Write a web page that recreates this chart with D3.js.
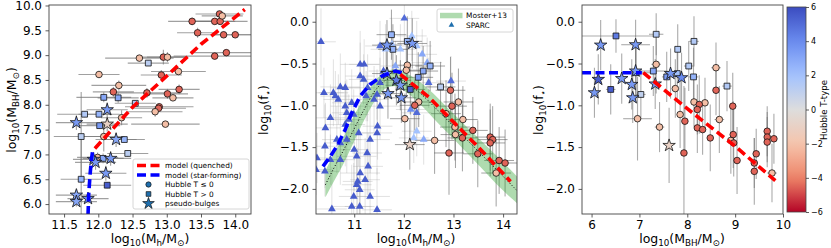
<!DOCTYPE html>
<html><head><meta charset="utf-8">
<script src="https://cdn.jsdelivr.net/npm/d3@7"></script>
<style>
body{margin:0;background:#fff}
text{font-family:"DejaVu Sans",sans-serif;fill:#000}
</style></head><body>
<svg id="fig" width="831" height="248"></svg>
<script>
// galaxies: [x, y, Hubble T, xerr, yerr, kind]  kind: c = T<=0, s = T>0, p = pseudo-bulge
const p1Gal = [
 [13.37,9.68,-4.5,0.35,0.08,"c"],[13.77,9.83,-4.5,0.35,0.06,"c"],[13.70,9.68,-4.5,0.3,0.06,"c"],
 [13.78,9.68,-4.5,0.4,0.06,"c"],[13.45,9.45,-4.5,0.3,0.1,"c"],[13.83,9.41,-4.5,0.4,0.06,"c"],
 [14.00,9.41,-4.5,0.35,0.06,"c"],[13.87,9.05,-4.5,0.5,0.06,"c"],[13.70,8.98,-4.5,0.6,0.06,"c"],
 [12.95,8.96,-4.5,0.35,0.15,"c"],[12.92,8.60,-4.5,0.3,0.1,"c"],[12.22,8.26,-4.5,0.3,0.1,"c"],
 [13.18,8.31,-4.5,0.3,0.1,"c"],[12.71,8.24,-4.5,0.5,0.1,"c"],[13.01,8.22,-4.5,0.3,0.1,"c"],
 [12.89,7.96,-4.5,0.5,0.06,"c"],[12.88,7.93,-4.5,0.4,0.06,"c"],
 [13.81,9.79,-2.2,0.3,0.06,"c"],[13.01,8.96,-2.2,0.3,0.1,"c"],[12.60,8.94,-2.2,0.5,0.06,"c"],
 [13.17,8.67,-2.2,0.4,0.06,"c"],[12.01,8.61,-2.2,0.3,0.06,"c"],[12.30,8.39,-2.2,0.4,0.1,"c"],
 [13.09,8.14,-2.2,0.3,0.06,"c"],[12.83,7.86,-2.2,0.4,0.1,"c"],[12.34,7.74,-2.2,0.3,0.15,"c"],
 [12.98,7.61,-2.2,0.5,0.06,"c"],[12.08,7.36,-2.2,0.3,0.3,"c"],[11.99,6.94,-2.2,0.3,0.1,"c"],
 [12.73,8.84,1.2,0.3,0.06,"s"],[12.08,8.15,3,0.4,0.1,"s"],[12.29,8.14,3,0.3,0.1,"s"],
 [12.54,8.03,1.5,0.3,0.06,"s"],[11.80,7.81,1.5,0.4,0.06,"s"],[12.01,7.81,2.5,0.3,0.06,"s"],
 [12.02,7.58,3.5,0.3,0.06,"s"],[11.75,7.36,1.2,0.4,0.9,"s"],[12.38,7.30,2.5,0.3,0.06,"s"],
 [12.43,7.02,1.2,0.3,0.06,"s"],[12.07,6.92,3,0.3,0.1,"s"],[11.75,6.50,2.5,0.3,0.8,"s"],
 [12.13,6.38,5.5,0.35,0.06,"s"],
 [12.13,7.90,3.5,0.3,0.15,"p"],[11.68,7.64,3.5,0.3,0.15,"p"],[12.13,7.61,-1,0.3,0.15,"p"],
 [12.26,7.30,3,0.3,0.15,"p"],[12.18,6.92,3.5,0.3,0.15,"p"],[11.93,6.90,3.5,0.3,0.15,"p"],
 [11.96,6.84,3.5,0.3,0.15,"p"],[12.11,6.62,3.5,0.3,0.15,"p"],[11.68,6.18,3,0.3,0.1,"p"],
 [11.68,6.05,3,0.3,0.1,"p"],[11.85,6.11,3.5,0.3,0.1,"p"]
];
const p2Gal = [
 [11.75,-0.155,2.5,0.3,0.3,"s"],[11.78,-0.33,2.5,0.3,0.3,"s"],[12.07,-0.235,2.5,0.3,0.3,"s"],
 [12.53,-0.53,2.5,0.3,0.3,"s"],[12.39,-0.59,3,0.3,0.3,"s"],[12.29,-0.665,3.5,0.3,0.3,"s"],
 [12.74,-0.78,1.2,0.3,0.3,"s"],[12.13,-0.81,5.5,0.3,0.3,"s"],
 [12.07,-0.52,-2.2,0.3,0.3,"c"],[12.05,-0.58,-2.2,0.3,0.3,"c"],[12.30,-0.96,-2.2,0.3,0.3,"c"],
 [12.02,-1.16,-2.2,0.3,0.3,"c"],[12.85,-1.10,-2.2,0.3,0.4,"c"],[13.10,-0.96,-2.2,0.3,0.4,"c"],
 [13.19,-1.17,-2.2,0.3,0.4,"c"],[13.03,-1.26,-2.2,0.3,0.4,"c"],[13.04,-1.35,-2.2,0.3,0.4,"c"],
 [12.62,-1.42,-2.2,0.4,0.4,"c"],[13.86,-1.81,-2.2,0.3,0.4,"c"],
 [12.22,-1.00,-4.5,0.3,0.3,"c"],[12.94,-0.82,-4.5,0.3,0.4,"c"],[12.97,-1.01,-4.5,0.3,0.4,"c"],
 [13.18,-1.39,-4.5,0.3,0.4,"c"],[13.39,-1.30,-4.5,0.3,0.4,"c"],[12.91,-1.57,-4.5,0.3,0.5,"c"],
 [13.74,-1.38,-4.5,0.3,0.4,"c"],[13.79,-1.41,-4.5,0.3,0.4,"c"],[13.74,-1.45,-4.5,0.3,0.4,"c"],
 [13.49,-1.58,-4.5,0.3,0.4,"c"],[13.92,-1.66,-4.5,0.3,0.4,"c"],[14.04,-1.69,-4.5,0.3,0.4,"c"],
 [11.66,-0.28,3.5,0.3,0.3,"p"],[12.17,-0.26,3.5,0.3,0.3,"p"],[11.66,-0.62,3.5,0.3,0.3,"p"],
 [11.85,-0.70,4.5,0.3,0.3,"p"],[11.93,-0.76,3.5,0.3,0.3,"p"],[11.68,-0.86,3.5,0.3,0.3,"p"],
 [11.95,-0.91,3.5,0.3,0.3,"p"],[12.12,-1.47,-1,0.3,0.3,"p"]
];
const p3Gal = [
 [6.51,-0.17,4.5,0.8,0.2,"s"],[7.35,-0.15,1.5,0.15,0.25,"s"],[7.80,-0.33,1.5,0.05,0.3,"s"],
 [8.14,-0.235,1.5,0.1,0.3,"s"],[8.03,-0.53,1.5,0.1,0.3,"s"],[7.29,-0.59,3,0.3,0.3,"s"],
 [6.93,-0.61,3,0.3,0.35,"s"],[7.79,-0.62,2,0.1,0.3,"s"],[7.57,-0.66,3.5,0.1,0.3,"s"],
 [8.13,-0.66,2.5,0.1,0.35,"s"],[6.40,-0.81,5.5,0.1,0.3,"s"],[7.03,-0.87,1,0.1,0.3,"s"],
 [8.83,-0.77,1.5,0.1,0.3,"s"],
 [7.35,-0.51,-2.2,0.1,0.35,"c"],[8.60,-0.55,-2.2,0.1,0.3,"c"],[7.75,-0.80,-2.2,0.05,0.35,"c"],
 [8.14,-0.96,-2.2,0.05,0.3,"c"],[8.37,-0.97,-2.2,0.05,0.3,"c"],[6.96,-1.16,-2.2,0.3,0.5,"c"],
 [7.85,-1.11,-2.2,0.05,0.4,"c"],[7.42,-1.26,-2.2,0.1,0.3,"c"],[8.67,-1.17,-2.2,0.1,0.4,"c"],
 [8.91,-1.42,-2.2,0.05,0.4,"c"],[9.77,-1.81,-2.2,0.1,0.35,"c"],
 [8.60,-0.82,-4.5,0.05,0.3,"c"],[8.25,-0.99,-4.5,0.05,0.35,"c"],[8.95,-1.01,-4.5,0.05,0.4,"c"],
 [7.95,-1.19,-4.5,0.05,0.4,"c"],[8.21,-1.27,-4.5,0.05,0.3,"c"],[8.32,-1.29,-4.5,0.05,0.3,"c"],
 [8.48,-1.39,-4.5,0.05,0.4,"c"],[8.96,-1.35,-4.5,0.05,0.4,"c"],[8.97,-1.45,-4.5,0.05,0.4,"c"],
 [7.93,-1.57,-4.5,0.05,0.8,"c"],[9.04,-1.66,-4.5,0.05,0.4,"c"],[9.44,-1.58,-4.5,0.05,0.3,"c"],
 [9.40,-1.69,-4.5,0.05,0.3,"c"],[9.40,-1.79,-4.5,0.05,0.4,"c"],[9.67,-1.31,-4.5,0.05,0.3,"c"],
 [9.67,-1.38,-4.5,0.05,0.3,"c"],[9.67,-1.44,-4.5,0.05,0.3,"c"],[9.81,-1.40,-4.5,0.05,0.3,"c"],
 [8.21,-1.05,-4.5,0.05,0.3,"c"],
 [6.19,-0.28,3.5,0.05,0.3,"p"],[6.92,-0.275,3.5,0.3,0.3,"p"],[6.92,-0.59,3.5,0.1,0.3,"p"],
 [7.65,-0.62,3.5,0.1,0.3,"p"],[7.88,-0.67,4,0.1,0.3,"p"],[6.14,-0.69,5.5,0.05,0.3,"p"],
 [6.63,-0.68,3.5,0.05,0.3,"p"],[6.84,-0.75,3.5,0.05,0.3,"p"],[7.33,-0.745,3.5,0.05,0.3,"p"],
 [6.06,-0.85,3.5,0.05,0.3,"p"],[6.86,-0.91,3.5,0.05,0.3,"p"],[7.62,-1.48,-1,0.05,0.45,"p"]
];
// SPARC rotation-curve galaxies: [logMh, log f*, T, xerr, yerr]
const sparc = [
 [10.33,-0.24,5.5,0.3,0.4],[10.23,-1.77,5.5,0.3,0.3],[10.25,-1.63,5.5,0.3,0.3],[10.39,-0.85,5.5,0.4,0.3],
 [10.58,-0.85,5.5,0.3,0.4],[10.62,-0.89,5.5,0.3,0.3],[10.68,-0.93,5.5,0.3,0.3],[10.72,-0.78,5.5,0.4,0.4],
 [10.82,-0.79,5.5,0.3,0.3],[10.52,-1.15,5.5,0.3,0.4],[10.41,-1.49,5.5,0.4,0.5],[10.65,-1.41,5.5,0.3,0.4],
 [10.72,-1.45,5.5,0.3,0.3],[10.82,-1.23,5.5,0.4,0.5],[10.82,-1.01,5.5,0.3,0.3],[10.85,-1.09,5.5,0.3,0.4],
 [10.89,-1.17,5.5,0.3,0.3],[10.85,-1.41,5.5,0.3,0.4],[10.95,-0.97,5.5,0.4,0.4],[10.99,-1.11,5.5,0.3,0.3],
 [11.09,-1.33,5.5,0.3,0.4],[11.00,-1.53,5.5,0.3,0.5],[11.05,-1.61,5.5,0.4,0.4],[10.52,-1.65,5.5,0.3,0.3],
 [10.55,-2.24,5.5,0.3,0.5],[10.95,-2.21,5.5,0.4,0.5],[11.11,-2.21,5.5,0.3,0.4],[11.12,-0.51,5.5,0.4,0.4],
 [11.20,-0.51,5.5,0.3,0.3],[11.12,-0.65,5.5,0.3,0.4],[11.19,-0.69,5.5,0.3,0.3],[11.27,-0.79,5.5,0.4,0.4],
 [11.24,-0.89,5.5,0.3,0.3],[11.40,-0.93,5.5,0.3,0.4],[11.46,-0.87,5.5,0.3,0.3],[11.52,-1.01,5.5,0.4,0.4],
 [11.46,-1.33,5.5,0.3,0.5],[11.47,-1.25,5.5,0.3,0.4],[11.32,-1.41,5.5,0.4,0.4],[11.26,-1.57,5.5,0.3,0.5],
 [11.28,-1.73,5.5,0.3,0.4],[11.12,-1.81,5.5,0.4,0.5],[11.05,-1.95,5.5,0.3,0.4],[11.11,-2.01,5.5,0.3,0.4],
 [11.22,-1.89,5.5,0.3,0.5],[11.32,-2.09,5.5,0.4,0.5],[10.99,-2.09,5.5,0.3,0.4],[11.46,-2.25,5.5,0.3,0.5],
 [11.07,-1.91,5.5,0.3,0.4],[11.52,-0.73,5.5,0.3,0.3],[11.59,-0.59,5.5,0.3,0.3],[11.83,-0.53,3,0.3,0.3],
 [11.93,-0.33,2,0.3,0.3],[12.01,0.04,5,0.3,0.3],[12.16,-0.17,2,0.3,0.3],[12.26,-0.29,2,0.3,0.3],
 [12.37,-0.39,3,0.3,0.3],[12.47,-0.49,3,0.3,0.3],[12.50,-0.73,5,0.3,0.3],[12.95,-0.71,5,0.3,0.3],
 [12.26,-1.09,5,0.3,0.3],[12.26,-1.31,2,0.3,0.3],[12.20,-1.39,2,0.3,0.3],[12.40,-1.41,3,0.3,0.3],
 [12.14,-1.05,4,0.3,0.3],[11.76,-0.27,2,0.3,0.3],[11.63,-0.33,2,0.3,0.3],[11.52,-0.29,5,0.3,0.3],
 [10.42,-1.27,5.5,0.3,0.3],[10.41,-1.79,5.5,0.3,0.3],[10.72,-1.65,5.5,0.3,0.3]
];
// model curves
const p1Quenched = [[11.95,7.12],[12.2,7.5],[12.5,7.95],[13.0,8.58],[13.5,9.22],[14.14,9.92]];
const p1StarForm = [[11.85,5.78],[11.86,6.2],[11.88,6.6],[11.90,6.9],[11.92,7.1]];
const p2StarForm = [[10.37,-1.73],[10.52,-1.61],[10.65,-1.49],[10.82,-1.29],[10.95,-1.09],[11.12,-0.89],[11.32,-0.75],[11.56,-0.65],[11.83,-0.59],[11.96,-0.61]];
const p2Quenched = [[11.93,-0.63],[12.5,-0.9],[13.0,-1.2],[13.5,-1.5],[14.15,-1.91]];
const p3Quenched = [[7.08,-0.61],[8.0,-1.04],[9.0,-1.49],[9.84,-1.90]];
const p3StarForm = [[5.8,-0.61],[7.05,-0.61]];
// Moster+13 relation
const mosterX   = [10.42,10.6,10.8,11.0,11.2,11.4,11.55,11.7,11.85,12.0,12.3,12.7,13.0,13.5,14.0,14.28];
const mosterMid = [-1.95,-1.74,-1.52,-1.28,-1.05,-0.84,-0.74,-0.68,-0.67,-0.71,-0.84,-1.07,-1.25,-1.55,-1.85,-2.02];
const mosterLo  = [-2.1,-1.9,-1.68,-1.43,-1.18,-0.96,-0.84,-0.78,-0.77,-0.82,-0.97,-1.22,-1.4,-1.71,-2.02,-2.17];
const mosterHi  = [-1.78,-1.57,-1.36,-1.12,-0.91,-0.72,-0.63,-0.58,-0.57,-0.60,-0.71,-0.92,-1.1,-1.39,-1.68,-1.85];
const cbarTicks = [6,4,2,0,-2,-4,-6];

const svg = d3.select("#fig");
const coolwarm = d3.piecewise(d3.interpolateRgb, ["#3b4cc0","#6a8bef","#a3c2fe","#dddddd","#f5c4ac","#ee8468","#b40426"]);
const tColor = t => coolwarm((6 - t) / 12);

const sym = {
  c: d3.symbol().type(d3.symbolCircle).size(34),
  s: d3.symbol().type(d3.symbolSquare).size(34),
  p: d3.symbol().type(d3.symbolStar).size(48)
};

function makePanel(id, xd, yd, xr, yr, xticks, yticks, xf, yf) {
  const x = d3.scaleLinear().domain(xd).range(xr);
  const y = d3.scaleLinear().domain(yd).range(yr);
  const g = svg.append("g");
  svg.append("clipPath").attr("id", id).append("rect")
    .attr("x", xr[0]).attr("y", yr[1]).attr("width", xr[1] - xr[0]).attr("height", yr[0] - yr[1]);
  const plot = g.append("g").attr("clip-path", `url(#${id})`);
  const ax = g.append("g").attr("transform", `translate(0,${yr[0]})`)
    .call(d3.axisBottom(x).tickValues(xticks).tickFormat(d3.format(xf)).tickSize(3.5).tickPadding(3));
  const ay = g.append("g").attr("transform", `translate(${xr[0]},0)`)
    .call(d3.axisLeft(y).tickValues(yticks).tickFormat(d3.format(yf)).tickSize(3.5).tickPadding(3.5));
  [ax, ay].forEach(a => {
    a.select(".domain").remove();
    a.selectAll("text").attr("font-size", 12).attr("font-family", "DejaVu Sans");
    a.selectAll("line").attr("stroke", "#333").attr("stroke-width", 0.8);
  });
  g.append("rect").attr("x", xr[0]).attr("y", yr[1]).attr("width", xr[1] - xr[0]).attr("height", yr[0] - yr[1])
    .attr("fill", "none").attr("stroke", "#444").attr("stroke-width", 0.9);
  return {x, y, plot, g};
}

function errBars(p, data, color, op, w) {
  const e = p.plot.append("g").attr("stroke", color).attr("stroke-opacity", op).attr("stroke-width", w);
  e.selectAll(".h").data(data).join("line")
    .attr("x1", d => p.x(d[0] - d[3])).attr("x2", d => p.x(d[0] + d[3]))
    .attr("y1", d => p.y(d[1])).attr("y2", d => p.y(d[1]));
  e.selectAll(".v").data(data).join("line")
    .attr("x1", d => p.x(d[0])).attr("x2", d => p.x(d[0]))
    .attr("y1", d => p.y(d[1] - d[4])).attr("y2", d => p.y(d[1] + d[4]));
}

function markers(p, data) {
  p.plot.append("g").selectAll("path").data(data).join("path")
    .attr("transform", d => `translate(${p.x(d[0])},${p.y(d[1])})`)
    .attr("d", d => sym[d[5]]())
    .attr("fill", d => tColor(d[2]))
    .attr("stroke", "#111").attr("stroke-width", 0.8);
}

function dashLine(p, pts, color) {
  const line = d3.line().x(d => p.x(d[0])).y(d => p.y(d[1]));
  p.plot.append("path").datum(pts).attr("d", line).attr("fill", "none")
    .attr("stroke", color).attr("stroke-width", 3.6).attr("stroke-dasharray", "9,4.5");
}

// text with subscripts; parts = [[string, isSub], ...]
function label(g, x, y, parts, size, rotate) {
  const t = g.append("text").attr("font-size", size).attr("text-anchor", "middle")
    .attr("transform", `translate(${x},${y})` + (rotate ? " rotate(-90)" : ""));
  let shift = 0;
  parts.forEach(([s, sub]) => {
    const want = sub ? size * 0.25 : 0;
    const ts = t.append("tspan").text(s).attr("dy", want - shift);
    if (sub) ts.attr("font-size", size * 0.7);
    shift = want;
  });
  return t;
}

// ---------- panel 1 ----------
const P1 = makePanel("c1", [11.28, 14.23], [5.80, 10.01], [49, 251], [214, 5],
  d3.range(11.5, 14.01, 0.5), d3.range(6, 10.01, 0.5), ".1f", ".1f");
errBars(P1, p1Gal, "#777", 0.7, 1.1);
markers(P1, p1Gal);
dashLine(P1, p1Quenched, "#ff0000");
dashLine(P1, p1StarForm, "#0000ff");
label(svg, 150, 243, [["log"],["10",1],["(M"],["h",1],["/M"],["⊙",1],[")"]], 12.5, false);
label(svg, 16, 110, [["log"],["10",1],["(M"],["BH",1],["/M"],["⊙",1],[")"]], 12.5, true);

// legend 1
const L1 = svg.append("g").attr("font-size", 7.4);
L1.append("rect").attr("x", 133).attr("y", 159).attr("width", 116).attr("height", 50)
  .attr("rx", 2).attr("fill", "#fff").attr("fill-opacity", 0.85).attr("stroke", "#ccc").attr("stroke-width", 0.8);
const legRows = [
  ["line", "#ff0000", "model (quenched)"],
  ["line", "#0000ff", "model (star-forming)"],
  ["c", "", "Hubble T ≤ 0"],
  ["s", "", "Hubble T > 0"],
  ["p", "", "pseudo-bulges"]
];
const legY = d3.scalePoint().domain(d3.range(legRows.length)).range([165.5, 203.5]);
legRows.forEach((r, i) => {
  const yy = legY(i);
  if (r[0] === "line") {
    L1.append("line").attr("x1", 137).attr("x2", 160).attr("y1", yy).attr("y2", yy)
      .attr("stroke", r[1]).attr("stroke-width", 3.6).attr("stroke-dasharray", "9,4.5");
  } else {
    L1.append("path").attr("transform", `translate(148.5,${yy})`)
      .attr("d", d3.symbol().type(r[0] === "c" ? d3.symbolCircle : r[0] === "s" ? d3.symbolSquare : d3.symbolStar)
        .size(r[0] === "p" ? 42 : 22)())
      .attr("fill", "#1f6fae").attr("stroke", "#111").attr("stroke-width", 0.7);
  }
  L1.append("text").attr("x", 165).attr("y", yy).attr("dy", "0.35em").text(r[2]);
});

// ---------- panel 2 ----------
const P2 = makePanel("c2", [10.23, 14.28], [-2.3, 0.2], [316, 517], [214, 5],
  [11, 12, 13, 14], [0, -0.5, -1, -1.5, -2], "d", ".1f");
errBars(P2, sparc, "#aaa", 0.35, 1);
errBars(P2, p2Gal, "#555", 0.55, 1);
const moster = mosterX.map((v, i) => [v, mosterLo[i], mosterHi[i], mosterMid[i]]);
P2.plot.append("path").datum(moster)
  .attr("d", d3.area().x(d => P2.x(d[0])).y0(d => P2.y(d[1])).y1(d => P2.y(d[2])).curve(d3.curveMonotoneX))
  .attr("fill", "#2ca02c").attr("fill-opacity", 0.38);
P2.plot.append("path").datum(moster)
  .attr("d", d3.line().x(d => P2.x(d[0])).y(d => P2.y(d[3])).curve(d3.curveMonotoneX))
  .attr("fill", "none").attr("stroke", "#000").attr("stroke-width", 1).attr("stroke-dasharray", "1,2");
P2.plot.append("g").selectAll("path").data(sparc).join("path")
  .attr("transform", d => `translate(${P2.x(d[0])},${P2.y(d[1])})`)
  .attr("d", d3.symbol().type(d3.symbolTriangle).size(26)())
  .attr("fill", d => tColor(d[2]));
markers(P2, p2Gal);
dashLine(P2, p2StarForm, "#0000ff");
dashLine(P2, p2Quenched, "#ff0000");
label(svg, 416, 243, [["log"],["10",1],["(M"],["h",1],["/M"],["⊙",1],[")"]], 12.5, false);
label(svg, 268, 110, [["log"],["10",1],["(f"],["⋆",1],[")"]], 12.5, true);

// legend 2
const L2 = svg.append("g").attr("font-size", 7.4);
L2.append("rect").attr("x", 437).attr("y", 9).attr("width", 76).attr("height", 23)
  .attr("rx", 2).attr("fill", "#fff").attr("fill-opacity", 0.85).attr("stroke", "#ccc").attr("stroke-width", 0.8);
L2.append("rect").attr("x", 440).attr("y", 12.8).attr("width", 22.5).attr("height", 5.5)
  .attr("fill", "#2ca02c").attr("fill-opacity", 0.38);
L2.append("text").attr("x", 466).attr("y", 15.5).attr("dy", "0.35em").text("Moster+13");
L2.append("path").attr("transform", "translate(451.5,25)")
  .attr("d", d3.symbol().type(d3.symbolTriangle).size(14)()).attr("fill", "#1f6fae");
L2.append("text").attr("x", 466).attr("y", 25).attr("dy", "0.35em").text("SPARC");

// ---------- panel 3 ----------
const P3 = makePanel("c3", [5.8, 10.0], [-2.3, 0.2], [582, 783], [214, 5],
  [6, 7, 8, 9, 10], [0, -0.5, -1, -1.5, -2], "d", ".1f");
errBars(P3, p3Gal, "#666", 0.55, 1.1);
markers(P3, p3Gal);
dashLine(P3, p3StarForm, "#0000ff");
dashLine(P3, p3Quenched, "#ff0000");
label(svg, 682, 243, [["log"],["10",1],["(M"],["BH",1],["/M"],["⊙",1],[")"]], 12.5, false);
label(svg, 543, 110, [["log"],["10",1],["(f"],["⋆",1],[")"]], 12.5, true);

// colorbar
const cb = d3.scaleLinear().domain([6, -6]).range([7, 212]);
const grad = svg.append("defs").append("linearGradient").attr("id", "cbg")
  .attr("x1", 0).attr("y1", 0).attr("x2", 0).attr("y2", 1);
d3.range(0, 1.001, 0.05).forEach(o => grad.append("stop").attr("offset", o).attr("stop-color", coolwarm(o)));
svg.append("rect").attr("x", 787).attr("y", 7).attr("width", 19).attr("height", 205)
  .attr("fill", "url(#cbg)").attr("stroke", "#444").attr("stroke-width", 0.8);
const cax = svg.append("g").attr("transform", "translate(806,0)")
  .call(d3.axisRight(cb).tickValues(cbarTicks).tickFormat(d3.format("d")).tickSize(3).tickPadding(2));
cax.select(".domain").remove();
cax.selectAll("text").attr("font-size", 8).attr("font-family", "DejaVu Sans");
cax.selectAll("line").attr("stroke", "#333").attr("stroke-width", 0.8);
svg.append("text").attr("font-size", 8.6).attr("text-anchor", "middle")
  .attr("transform", "translate(827,110) rotate(-90)").text("Hubble T-type");
</script>
</body></html>
